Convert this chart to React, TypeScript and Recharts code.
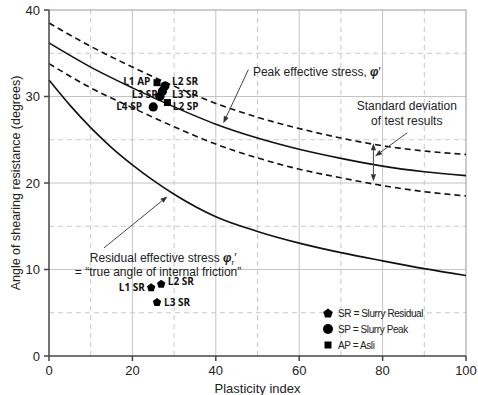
import {
  ComposedChart,
  Legend,
  Line,
  ReferenceLine,
  Scatter,
  XAxis,
  YAxis,
} from 'recharts';

// curves (plasticity index -> angle, degrees)
const plasticity = [0, 10, 20, 30, 40, 50, 60, 70, 80, 90, 100];
const peak = [36.2, 33.4, 31.0, 28.8, 26.8, 25.2, 23.9, 22.85, 21.95, 21.3, 20.85];
const peakUpper = [38.5, 35.8, 33.4, 31.2, 29.2, 27.6, 26.3, 25.2, 24.3, 23.7, 23.3];
const peakLower = [33.8, 31.0, 28.7, 26.5, 24.5, 22.9, 21.6, 20.6, 19.7, 19.0, 18.5];

const residualPI = [0, 5, 10, 15, 20, 25, 30, 40, 50, 60, 70, 80, 90, 100];
const residual = [31.9, 29.0, 26.4, 24.1, 22.1, 20.3, 18.7, 16.1, 14.4, 13.05, 11.95, 11.0, 10.1, 9.3];

// test points
const slurryResidual = [
  { x: 24.5, y: 7.9 },
  { x: 26.9, y: 8.3 },
  { x: 25.9, y: 6.2 },
];
const slurryPeak = [
  { x: 27.8, y: 31.2 },
  { x: 27.2, y: 30.6 },
  { x: 26.6, y: 30.0 },
  { x: 25.0, y: 28.8 },
];
const asli = [
  { x: 25.9, y: 31.6 },
  { x: 28.4, y: 29.3 },
];

const pointLabels = [
  { x: 24.3, y: 31.7, text: 'L1 AP', anchor: 'end' },
  { x: 29.5, y: 31.7, text: 'L2 SR', anchor: 'start' },
  { x: 26.1, y: 30.2, text: 'L3 SR', anchor: 'end' },
  { x: 29.5, y: 30.2, text: 'L3 SP', anchor: 'start' },
  { x: 22.3, y: 28.8, text: 'L4 SP', anchor: 'end' },
  { x: 29.7, y: 28.9, text: 'L2 SP', anchor: 'start' },
  { x: 23.0, y: 7.9, text: 'L1 SR', anchor: 'end' },
  { x: 28.5, y: 8.6, text: 'L2 SR', anchor: 'start' },
  { x: 27.6, y: 6.2, text: 'L3 SR', anchor: 'start' },
];

const notes = [
  { x: 48.9, y: 32.85, text: 'Peak effective stress, ', phi: true, sub: '', anchor: 'start' },
  { x: 85.8, y: 28.9, text: 'Standard deviation', phi: false, sub: '', anchor: 'middle' },
  { x: 85.8, y: 27.15, text: 'of test results', phi: false, sub: '', anchor: 'middle' },
  { x: 9.8, y: 11.4, text: 'Residual effective stress ', phi: true, sub: 'r', anchor: 'start' },
  { x: 6.2, y: 9.8, text: '= \u201Ctrue angle of internal friction\u201D', phi: false, sub: '', anchor: 'start' },
];

const arrows = [
  { from: { x: 47.8, y: 33.1 }, to: { x: 41.8, y: 26.9 } },
  { from: { x: 85.9, y: 25.8 }, to: { x: 78.2, y: 23.1 } },
  { from: { x: 13.2, y: 12.5 }, to: { x: 28.4, y: 18.45 } },
];
const spread = [{ from: { x: 77.8, y: 22.4 }, to: { x: 77.8, y: 24.6 } }, { from: { x: 77.8, y: 22.4 }, to: { x: 77.8, y: 20.2 } }];

const xTicks = [0, 20, 40, 60, 80, 100];
const yTicks = [0, 10, 20, 30, 40];
const xMinor = [10, 30, 50, 70, 90];
const yMinor = [5, 15, 25, 35];
const xMajor = [20, 40, 60, 80];
const yMajor = [10, 20, 30];

const legendRows = [
  { shape: 'pentagon', text: 'SR = Slurry Residual' },
  { shape: 'circle', text: 'SP = Slurry Peak' },
  { shape: 'square', text: 'AP = Asli' },
];

const toXY = (xs: number[], ys: number[]) => xs.map((x, i) => ({ x, y: ys[i] }));

const pentagonPoints = (cx: number, cy: number, r: number) =>
  [0, 1, 2, 3, 4]
    .map((i) => {
      const a = -Math.PI / 2 + (i * 2 * Math.PI) / 5;
      return `${cx + r * Math.cos(a)},${cy + r * Math.sin(a)}`;
    })
    .join(' ');

const Pentagon = (p: any) => <polygon points={pentagonPoints(p.cx, p.cy, 4.4)} fill="#000" />;
const Dot = (p: any) => <circle cx={p.cx} cy={p.cy} r={4.6} fill="#000" />;
const Square = (p: any) => <rect x={p.cx - 3.5} y={p.cy - 3.5} width={7} height={7} fill="#000" />;

const PointLabel = (p: any) => (
  <text
    x={p.cx}
    y={p.cy}
    dy="0.36em"
    textAnchor={p.payload.anchor}
    fontFamily="'Open Sans', sans-serif"
    fontWeight={700}
    fontSize={10}
    fill="#111"
  >
    {p.payload.text}
  </text>
);

const Note = (p: any) => {
  const n = p.payload;
  return (
    <text
      x={p.cx}
      y={p.cy}
      dy="0.36em"
      textAnchor={n.anchor}
      fontFamily="'Liberation Sans', Arial, sans-serif"
      fontSize={12}
      fill="#222"
    >
      {n.text}
      {n.phi && <tspan fontStyle="italic" fontWeight={700}>φ</tspan>}
      {n.sub && <tspan fontSize={8} dy={3}>{n.sub}</tspan>}
      {n.phi && <tspan dy={n.sub ? -3 : 0}>′</tspan>}
    </text>
  );
};

const arrowShape = (p: any) => {
  const { x1, y1, x2, y2 } = p;
  const a = Math.atan2(y2 - y1, x2 - x1);
  const len = 7;
  const w = 2.6;
  const bx = x2 - len * Math.cos(a);
  const by = y2 - len * Math.sin(a);
  const px = -Math.sin(a) * w;
  const py = Math.cos(a) * w;
  return (
    <g>
      <line x1={x1} y1={y1} x2={bx} y2={by} stroke="#444" strokeWidth={1} />
      <polygon points={`${x2},${y2} ${bx + px},${by + py} ${bx - px},${by - py}`} fill="#333" />
    </g>
  );
};

const YLabel = ({ viewBox }: any) => {
  const cx = viewBox.x + 7;
  const cy = viewBox.y + viewBox.height / 2;
  return (
    <text
      x={cx}
      y={cy}
      transform={`rotate(-90 ${cx} ${cy})`}
      textAnchor="middle"
      dominantBaseline="central"
      fontSize={12.5}
      fill="#222"
    >
      Angle of shearing resistance (degrees)
    </text>
  );
};

const LegendBox = () => (
  <div style={{ fontFamily: "'Liberation Sans', Arial, sans-serif", fontSize: 10, letterSpacing: -0.4, color: '#222' }}>
    {legendRows.map((row) => (
      <div key={row.text} style={{ display: 'flex', alignItems: 'center', height: 16 }}>
        <svg width={12} height={12} style={{ marginRight: 4 }}>
          {row.shape === 'pentagon' && <polygon points={pentagonPoints(6, 6.5, 5)} fill="#000" />}
          {row.shape === 'circle' && <circle cx={6} cy={6} r={5} fill="#000" />}
          {row.shape === 'square' && <rect x={2.5} y={2.5} width={7} height={7} fill="#000" />}
        </svg>
        <span>{row.text}</span>
      </div>
    ))}
  </div>
);

export default function App() {
  return (
    <div
      style={{
        position: 'absolute',
        left: 0,
        top: 0,
        width: 478,
        height: 395,
        overflow: 'hidden',
        background: '#fff',
        fontFamily: "'Liberation Sans', Arial, sans-serif",
      }}
    >
      <ComposedChart width={478} height={400} margin={{ top: 10, right: 12, bottom: 0, left: 9 }}>
        {xMinor.map((v) => (
          <ReferenceLine key={`xm${v}`} x={v} stroke="#c8c8c8" strokeDasharray="5 4" />
        ))}
        {yMinor.map((v) => (
          <ReferenceLine key={`ym${v}`} y={v} stroke="#c8c8c8" strokeDasharray="5 4" />
        ))}
        {xMajor.map((v) => (
          <ReferenceLine key={`xM${v}`} x={v} stroke="#c4c4c4" />
        ))}
        {yMajor.map((v) => (
          <ReferenceLine key={`yM${v}`} y={v} stroke="#c4c4c4" />
        ))}
        <ReferenceLine y={40} stroke="#999" />
        <ReferenceLine x={100} stroke="#999" />

        <XAxis
          type="number"
          dataKey="x"
          domain={[0, 100]}
          ticks={xTicks}
          height={44}
          tickSize={5}
          tickMargin={5}
          stroke="#444"
          strokeWidth={1.5}
          tick={{ fontSize: 13, fill: '#222' }}
          label={{ value: 'Plasticity index', position: 'insideBottom', offset: 7, fontSize: 13, fill: '#222' }}
        />
        <YAxis
          type="number"
          domain={[0, 40]}
          ticks={yTicks}
          width={40}
          tickSize={5}
          tickMargin={4}
          stroke="#444"
          strokeWidth={1.5}
          tick={{ fontSize: 13, fill: '#222' }}
          label={<YLabel />}
        />

        <Line data={toXY(plasticity, peakUpper)} dataKey="y" type="monotone" stroke="#111" strokeWidth={1.6} strokeDasharray="6 4" dot={false} isAnimationActive={false} />
        <Line data={toXY(plasticity, peakLower)} dataKey="y" type="monotone" stroke="#111" strokeWidth={1.6} strokeDasharray="6 4" dot={false} isAnimationActive={false} />
        <Line data={toXY(plasticity, peak)} dataKey="y" type="monotone" stroke="#111" strokeWidth={1.6} dot={false} isAnimationActive={false} />
        <Line data={toXY(residualPI, residual)} dataKey="y" type="monotone" stroke="#111" strokeWidth={1.6} dot={false} isAnimationActive={false} />

        {arrows.map((a, i) => (
          <ReferenceLine key={`a${i}`} segment={[a.from, a.to]} shape={arrowShape} />
        ))}
        {spread.map((a, i) => (
          <ReferenceLine key={`s${i}`} segment={[a.from, a.to]} shape={arrowShape} />
        ))}

        <Scatter name="SR" data={slurryResidual} dataKey="y" shape={Pentagon} isAnimationActive={false} />
        <Scatter name="SP" data={slurryPeak} dataKey="y" shape={Dot} isAnimationActive={false} />
        <Scatter name="AP" data={asli} dataKey="y" shape={Square} isAnimationActive={false} />
        <Scatter data={pointLabels} dataKey="y" shape={PointLabel} legendType="none" isAnimationActive={false} />
        <Scatter data={notes} dataKey="y" shape={Note} legendType="none" isAnimationActive={false} />

        <Legend
          layout="vertical"
          align="center"
          verticalAlign="middle"
          wrapperStyle={{ left: 322, top: 305, width: 150 }}
          content={<LegendBox />}
        />
      </ComposedChart>
    </div>
  );
}
